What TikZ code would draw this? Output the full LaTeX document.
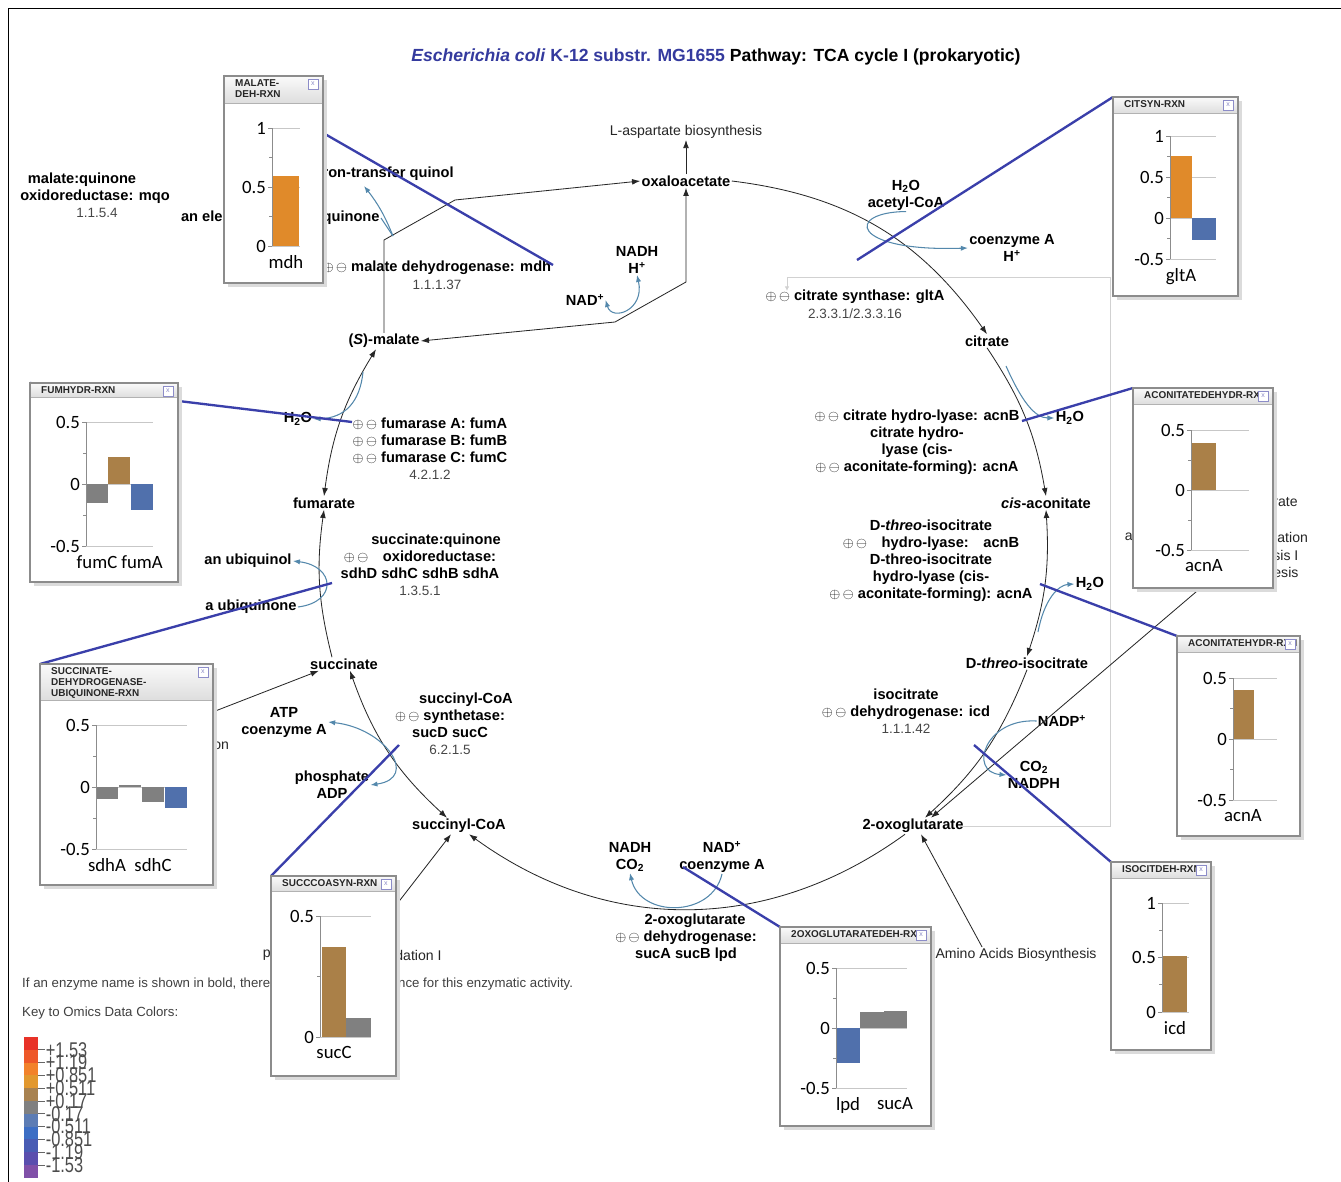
\documentclass[tikz,border=0pt]{standalone}
\usepackage{fontspec}
\setmainfont{Liberation Sans}
\newfontfamily\chartfont{Carlito}
\usepackage{graphicx}
\usepackage{tikz}
\usetikzlibrary{arrows.meta,calc,positioning}

% colours
\definecolor{titleblue}{RGB}{52,58,158}
\definecolor{linkblue}{RGB}{58,63,170}
\definecolor{sideblue}{RGB}{84,136,172}
\definecolor{barorange}{RGB}{224,138,42}
\definecolor{barbrown}{RGB}{170,128,72}
\definecolor{barblue}{RGB}{80,112,172}
\definecolor{bargray}{RGB}{128,128,128}
\definecolor{ecgray}{RGB}{70,70,70}
\definecolor{iconblue}{RGB}{140,140,200}
\definecolor{key1}{RGB}{232,50,40}
\definecolor{key2}{RGB}{238,88,40}
\definecolor{key3}{RGB}{242,130,42}
\definecolor{key4}{RGB}{226,152,46}
\definecolor{key5}{RGB}{168,130,80}
\definecolor{key6}{RGB}{128,128,128}
\definecolor{key7}{RGB}{92,124,180}
\definecolor{key8}{RGB}{60,110,196}
\definecolor{key9}{RGB}{72,92,180}
\definecolor{key10}{RGB}{90,78,174}
\definecolor{key11}{RGB}{128,80,168}

% fonts
\newcommand\titlefont{\fontsize{15}{18}\selectfont\bfseries}
\newcommand\metfont{\fontsize{12.5}{14.5}\selectfont\bfseries}
\newcommand\ecfont{\fontsize{11.5}{14.5}\selectfont\mdseries}
\newcommand\plainfont{\fontsize{12}{14.5}\selectfont}
\newcommand\notefont{\fontsize{11.3}{13}\selectfont}
\newcommand\boxfont{\fontsize{8.5}{9.6}\selectfont\bfseries}
\newcommand\tickfont{\chartfont\fontsize{16}{18}\selectfont}
\newcommand\keyfont{\fontsize{14}{14}\selectfont}
\newcommand\regs{{\fontsize{12.5}{12}\selectfont$\oplus$\,$\ominus$}}

\tikzset{
  met/.style={font=\metfont, inner sep=1pt},
  enz/.style={font=\metfont, align=center, inner sep=0pt},
  ec/.style={font=\ecfont, text=ecgray, inner sep=0pt},
  plainlbl/.style={font=\plainfont, text=black!85, inner sep=1pt},
  notetext/.style={font=\notefont, text=black!75, inner sep=0pt, anchor=west},
  rxn/.style={draw=black!85, line width=0.7pt, ->},
  rxnboth/.style={draw=black!85, line width=0.7pt, <->},
  sidearr/.style={draw=sideblue, line width=0.9pt, ->, >={Latex[length=6pt,width=4.5pt]}},
  sideboth/.style={sidearr, <->},
  omicslink/.style={draw=linkblue, line width=2pt},
  omicsframe/.style={fill=white, inner sep=0pt, outer sep=0pt},
  boxtitle/.style={font=\boxfont, align=left, inner sep=0pt, anchor=north west, text=black!85},
  closebox/.style={draw=iconblue, fill=white, minimum size=0.3cm, inner sep=0pt, font=\fontsize{6}{6}\selectfont, text=iconblue},
  chartgrid/.style={draw=black!22, line width=0.8pt},
  axisc/.style={draw=black!45, line width=0.8pt},
  ticklab/.style={anchor=east, font=\tickfont, inner sep=0pt},
  barlab/.style={anchor=north, font=\tickfont, inner sep=1pt, yshift=-7pt},
  keylab/.style={anchor=west, font=\keyfont, text=black!70, inner sep=0.5pt}
}

% omics popup: name, corner, width, height, title bar height, title
\newcommand{\omicsbox}[6]{%
  \fill[black!14] ($(#2)+(4,-4)$) rectangle ++(#3,-#4);
  \node[omicsframe, minimum width={#3*0.03cm}, minimum height={#4*0.03cm}, anchor=north west] (#1) at (#2) {};
  \fill[top color=black!2, bottom color=black!13] (#1.north west) rectangle ($(#1.north east)+(0,-#5)$);
  \draw[black!30] ($(#1.north west)+(0,-#5)$) -- ($(#1.north east)+(0,-#5)$);
  \begin{scope}
    \clip (#1.north west) rectangle ($(#1.north east)+(0,-#5)$);
    \node[boxtitle] (#1title) at ($(#1.north west)+(11,-3)$) {#6};
  \end{scope}
  \node[closebox] (#1close) at ($(#1.north east)+(-10,-8)$) {x};
  \draw[black!45, line width=1pt] (#1.north west) rectangle (#1.south east);
}
% chart axes: prefix, grid width, major values, minor values
\newcommand{\chartaxes}[4]{%
  \foreach \val [count=\i] in {#3}{
    \draw[chartgrid] (0,\val) -- (#2,\val);
    \draw[axisc] (-4,\val) -- (0,\val);
    \node[ticklab] (#1t\i) at (-6,\val) {\val};
  }
  \foreach \val in {#4}{\draw[axisc] (-3,\val) -- (0,\val);}
}

\begin{document}
\begin{tikzpicture}[x=0.03cm, y=0.03cm, >={Latex[length=7pt,width=5pt]}]
% 1 unit = 1 pixel of the screen shot, y downwards negative
\useasboundingbox (0,0) rectangle (1341,-1182);
\fill[white] (0,0) rectangle (1341,-1182);
\draw[line width=0.8pt] (8,-1182) -- (8,-8) -- (1341,-8);

\node[font=\titlefont] (title) at (716,-57) {\textcolor{titleblue}{\textit{Escherichia coli} K-12 substr. MG1655} Pathway: TCA cycle I (prokaryotic)};

% zoom frame of the viewer
\draw[black!18, line width=0.8pt, ->, >={Latex[length=4pt,width=4pt]}] (960,-826) -- (1110,-826) -- (1110,-277) -- (787,-277) -- (787,-291);

% metabolites of the cycle
\node[met] (oaa) at (686,-181) {oxaloacetate};
\node[plainlbl] (asp) at (686,-132) {L-aspartate biosynthesis};
\node[met] (cit) at (987,-341) {citrate};
\node[met] (cis) at (1046,-503) {\textit{cis}-aconitate};
\node[met] (iso) at (1027,-663) {D-\textit{threo}-isocitrate};
\node[met] (oxo) at (913,-826) {2-oxoglutarate};
\node[met] (sca) at (459,-826) {succinyl-CoA};
\node[met] (suc) at (344,-664) {succinate};
\node[met] (fum) at (324,-503) {fumarate};
\node[met] (mal) at (384,-341) {(\textit{S})-malate};
\node[plainlbl] (amino) at (1016,-955) {Amino Acids Biosynthesis};

% side compounds
\node[met, anchor=east] (qnl) at (455,-174) {an electron-transfer quinol};
\node[met, anchor=east] (qne) at (381,-218) {an electron-transfer quinone};
\node[met, align=center] (nadh1) at (637,-260) {NADH\\H\textsuperscript{+}};
\node[met] (nad1) at (585,-300) {NAD\textsuperscript{+}};
\node[met, align=center] (acoa) at (906,-195) {H\textsubscript{2}O\\acetyl-CoA};
\node[met, align=center] (coa) at (1012,-248) {coenzyme A\\H\textsuperscript{+}};
\node[met] (h2oa) at (1070,-418) {H\textsubscript{2}O};
\node[met] (h2ob) at (1090,-584) {H\textsubscript{2}O};
\node[met] (nadp) at (1062,-721) {NADP\textsuperscript{+}};
\node[met, align=center] (nadph) at (1034,-775) {CO\textsubscript{2}\\NADPH};
\node[met, align=center] (nadhco) at (630,-857) {NADH\\CO\textsubscript{2}};
\node[met, align=center] (nadcoa) at (722,-857) {NAD\textsuperscript{+}\\coenzyme A};
\node[met, align=center] (atp) at (284,-722) {ATP\\coenzyme A};
\node[met, align=center] (padp) at (332,-785) {phosphate\\ADP};
\node[met] (uql) at (248,-561) {an ubiquinol};
\node[met] (uq) at (251,-607) {a ubiquinone};
\node[met] (h2of) at (298,-419) {H\textsubscript{2}O};

% enzymes
\node[enz] (mdh) at (437,-268) {\regs\ malate dehydrogenase: mdh};
\node[ec] (mdhec) at (437,-285) {1.1.1.37};
\node[enz] (mqo) at (95,-188) {malate:quinone\hspace*{0.78cm}\\oxidoreductase: mqo};
\node[ec] (mqoec) at (97,-213) {1.1.5.4};
\node[enz] (gltA) at (855,-297) {\regs\ citrate synthase: gltA};
\node[ec] (gltAec) at (855,-314) {2.3.3.1/2.3.3.16};
\node[enz] (acn) at (917,-442) {\regs\ citrate hydro-lyase: acnB\\citrate hydro-\\lyase (cis-\\\regs\ aconitate-forming): acnA};
\node[enz] (acnr) at (931,-561) {D-\textit{threo}-isocitrate\\\regs\quad hydro-lyase:\quad acnB\\D-threo-isocitrate\\hydro-lyase (cis-\\\regs\ aconitate-forming): acnA};
\node[enz] (icd) at (906,-711) {isocitrate\\\regs\ dehydrogenase: icd\\{\ecfont\color{ecgray}1.1.1.42}};
\node[enz] (fumr) at (430,-449) {\regs\ fumarase A: fumA\\\regs\ fumarase B: fumB\\\regs\ fumarase C: fumC\\{\ecfont\color{ecgray}4.2.1.2}};
\node[enz] (sdh) at (420,-565) {\hspace*{0.96cm}succinate:quinone\\\regs\quad oxidoreductase:\\sdhD sdhC sdhB sdhA\\{\ecfont\color{ecgray}1.3.5.1}};
\node[enz] (scs) at (450,-724) {\hspace*{0.96cm}succinyl-CoA\\\regs\ synthetase:\\sucD sucC\\{\ecfont\color{ecgray}6.2.1.5}};
\node[enz] (ogd) at (686,-938) {\hspace*{0.54cm}2-oxoglutarate\\\regs\ dehydrogenase:\\sucA sucB lpd};

% texts partly under the popups
\node[plainlbl, anchor=west] (fr1) at (212,-746) {on};
\node[plainlbl, anchor=east] (fr2) at (272,-955) {p};
\node[plainlbl, anchor=west] (fr3) at (394,-955) {dation I};
\node[plainlbl, anchor=west] (fr4) at (1272,-502) {rate};
\node[plainlbl, anchor=east] (fr5) at (1134,-537) {a};
\node[plainlbl, anchor=west] (fr6) at (1276,-537) {ation};
\node[plainlbl, anchor=west] (fr7) at (1272,-555) {sis I};
\node[plainlbl, anchor=west] (fr8) at (1272,-572) {esis};
\node[notetext] (foot) at (22,-984) {If an enzyme name is shown in bold, there is experimental evidence for this enzymatic activity.};
\node[notetext] (keyhead) at (22,-1013) {Key to Omics Data Colors:};

% colour key
\foreach \i in {1,...,11}
  \fill[key\i] (24,{-1037-12.8*(\i-1)}) rectangle (38,{-1037-12.8*\i});
\foreach \kv [count=\i] in {+1.53,+1.19,+0.851,+0.511,+0.17,-0.17,-0.511,-0.851,-1.19,-1.53}{
  \draw[black!60, line width=0.8pt] (38,{-1037-12.8*\i}) -- (45,{-1037-12.8*\i});
  \node[keylab] (key\i) at (45,{-1037-12.8*\i}) {\scalebox{1}[1.3]{\kv}};
}

% the cycle
\draw[rxn] (oaa.east) to[bend left=24] (cit.north);
\draw[rxn] (cit.south) to[bend left=12] (cis.north);
\draw[rxnboth] (iso.north) to[bend right=11] (cis.south);
\draw[rxn] (iso.south) to[bend left=13] ($(oxo.north)+(12,0)$);
\draw[rxn] ($(oxo.south)+(-8,0)$) to[bend left=36] ($(sca.south)+(10,0)$);
\draw[rxnboth] ($(sca.north)+(-12,0)$) to[bend left=14] ($(suc.south)+(6,0)$);
\draw[rxn] ($(suc.north)+(-12,0)$) to[bend left=11] (fum.south);
\draw[rxnboth] ($(mal.south)+(-8,0)$) to[bend right=12] (fum.north);
\coordinate (mdhknee) at (615,-322);
\coordinate (mdhtop) at (686,-282);
\draw[rxnboth] (mal.east) -- (mdhknee) -- (mdhtop) -- (oaa.south);
\coordinate (mqoa) at (384,-240);
\coordinate (mqob) at (455,-200);
\draw[rxn] (mal.north) -- (mqoa) -- (mqob) -- (oaa.west);
\draw[rxn] (oaa.north) -- (asp.south);
\coordinate (gluin) at (1210,-580);
\draw[rxn] (gluin) -- ($(oxo.north)+(18,0)$);
\draw[rxn] ($(amino.north west)+(48,0)$) -- ($(oxo.south)+(8,0)$);
\coordinate (sucin) at (205,-715);
\draw[rxn] (sucin) -- ($(suc.south west)+(10,0)$);
\coordinate (scain) at (390,-913);
\draw[rxn] (scain) -- ($(sca.south)+(-8,0)$);

% side reactions
\coordinate (mqoside) at (393,-236);
\coordinate (qnltip) at (364,-186);
\draw[sidearr, -] (qne.east) -- (mqoside);
\draw[sidearr] (mqoside) to[bend right=8] (qnltip);
\draw[sideboth] (nad1.east) .. controls (612,-322) and (645,-310) .. (nadh1.south);
\draw[sidearr] (acoa.south) .. controls (845,-212) and (850,-252) .. (coa.west);
\coordinate (acn1from) at (1006,-366);
\draw[sidearr] (acn1from) .. controls (1022,-402) and (1035,-418) .. (h2oa.west);
\coordinate (acn2from) at (1038,-632);
\draw[sidearr] (acn2from) .. controls (1044,-600) and (1058,-585) .. (h2ob.west);
\draw[sidearr] (nadp.west) .. controls (985,-718) and (968,-772) .. (nadph.west);
\draw[sidearr] (nadcoa.south) .. controls (712,-918) and (640,-918) .. (nadhco.south);
\draw[sideboth] (atp.east) .. controls (385,-728) and (420,-778) .. (padp.east);
\draw[sidearr] (uq.east) .. controls (338,-602) and (335,-566) .. (uql.east);
\coordinate (fumfrom) at (363,-372);
\draw[sidearr] (fumfrom) .. controls (360,-402) and (345,-418) .. (h2of.east);

% popup corners and their reactions
\coordinate (mdhc) at (224,-76);
\coordinate (citc) at (1113,-97);
\coordinate (acndc) at (1133,-388);
\coordinate (acnhc) at (1177,-636);
\coordinate (icdc) at (1111,-862);
\coordinate (ogdc) at (780,-927);
\coordinate (scsc) at (271,-876);
\coordinate (sdhc) at (40,-664);
\coordinate (fumc) at (30,-383);
\coordinate (mdhlk) at (553,-265);
\coordinate (citlk) at (857,-260);
\coordinate (acndlk) at (1022,-421);
\coordinate (acnhlk) at (1040,-584);
\coordinate (icdlk) at (974,-745);
\coordinate (ogdlk) at (683,-867);
\coordinate (scslk) at (399,-745);
\coordinate (sdhlk) at (332,-583);
\coordinate (fumlk) at (352,-422);
\foreach \c in {mdh,cit,acnd,acnh,icd,ogd,scs,sdh,fum}
  \draw[omicslink] (\c c) -- (\c lk);

% popups
\omicsbox{mdhbox}{mdhc}{99}{207}{27}{MALATE-\\DEH-RXN}
\begin{scope}[shift={(272,-246)}, y=3.54cm]
  \chartaxes{mdh}{28}{0,0.5,1}{0.25,0.75}
  \fill[barorange] (1,0) rectangle (27,0.59);
  \draw[axisc] (0,0) -- (0,1);
  \node[barlab] (mdhg) at (14,0) {mdh};
\end{scope}

\omicsbox{citbox}{citc}{125}{199}{16}{CITSYN-RXN}
\begin{scope}[shift={(1170,-218)}, y=2.46cm]
  \chartaxes{cit}{46}{-0.5,0,0.5,1}{-0.25,0.25,0.75}
  \fill[barorange] (0,0) rectangle (22,0.75);
  \fill[barblue] (22,0) rectangle (46,-0.27);
  \draw[axisc] (0,-0.5) -- (0,1);
  \node[barlab] (citg) at (11,-0.5) {gltA};
\end{scope}

\omicsbox{acndbox}{acndc}{140}{200}{16}{ACONITATEDEHYDR-RXN}
\begin{scope}[shift={(1191,-490)}, y=3.6cm]
  \chartaxes{acnd}{58}{-0.5,0,0.5}{-0.25,0.25}
  \fill[barbrown] (1,0) rectangle (25,0.39);
  \draw[axisc] (0,-0.5) -- (0,0.5);
  \node[barlab] (acndg) at (13,-0.5) {acnA};
\end{scope}

\omicsbox{acnhbox}{acnhc}{123}{200}{16}{ACONITATEHYDR-RXN}
\begin{scope}[shift={(1233,-739)}, y=3.66cm]
  \chartaxes{acnh}{44}{-0.5,0,0.5}{-0.25,0.25}
  \fill[barbrown] (1,0) rectangle (21,0.4);
  \draw[axisc] (0,-0.5) -- (0,0.5);
  \node[barlab] (acnhg) at (10,-0.5) {acnA};
\end{scope}

\omicsbox{icdbox}{icdc}{100}{188}{16}{ISOCITDEH-RXN}
\begin{scope}[shift={(1162,-1012)}, y=3.27cm]
  \chartaxes{icd}{27}{0,0.5,1}{0.25,0.75}
  \fill[barbrown] (0,0) rectangle (25,0.51);
  \draw[axisc] (0,0) -- (0,1);
  \node[barlab] (icdg) at (13,0) {icd};
\end{scope}

\omicsbox{ogdbox}{ogdc}{151}{199}{16}{2OXOGLUTARATEDEH-RXN}
\begin{scope}[shift={(836,-1028)}, y=3.6cm]
  \chartaxes{ogd}{71}{-0.5,0,0.5}{-0.25,0.25}
  \fill[barblue] (1,0) rectangle (24,-0.29);
  \fill[bargray] (24,0) rectangle (48,0.13);
  \fill[bargray] (48,0) rectangle (71,0.14);
  \draw[axisc] (0,-0.5) -- (0,0.5);
  \node[barlab] (ogdg1) at (12,-0.5) {lpd};
  \node[barlab] (ogdg2) at (59,-0.5) {sucA};
\end{scope}

\omicsbox{scsbox}{scsc}{125}{200}{15}{SUCCCOASYN-RXN}
\begin{scope}[shift={(320,-1037)}, y=7.26cm]
  \chartaxes{scs}{51}{0,0.5}{0.25}
  \fill[barbrown] (2,0) rectangle (26,0.37);
  \fill[bargray] (26,0) rectangle (51,0.08);
  \draw[axisc] (0,0) -- (0,0.5);
  \node[barlab] (scsg) at (14,0) {sucC};
\end{scope}

\omicsbox{sdhbox}{sdhc}{173}{221}{36}{SUCCINATE-\\DEHYDROGENASE-\\UBIQUINONE-RXN}
\begin{scope}[shift={(96,-787)}, y=3.72cm]
  \chartaxes{sdh}{91}{-0.5,0,0.5}{-0.25,0.25}
  \fill[bargray] (1,0) rectangle (22,-0.1);
  \fill[bargray] (23,0) rectangle (45,0.015);
  \fill[bargray] (46,0) rectangle (68,-0.12);
  \fill[barblue] (69,0) rectangle (91,-0.17);
  \draw[axisc] (0,-0.5) -- (0,0.5);
  \node[barlab] (sdhg1) at (11,-0.5) {sdhA};
  \node[barlab] (sdhg2) at (57,-0.5) {sdhC};
\end{scope}

\omicsbox{fumbox}{fumc}{148}{199}{14}{FUMHYDR-RXN}
\begin{scope}[shift={(86,-484)}, y=3.72cm]
  \chartaxes{fum}{67}{-0.5,0,0.5}{-0.25,0.25}
  \fill[bargray] (0,0) rectangle (22,-0.15);
  \fill[barbrown] (22,0) rectangle (44,0.22);
  \fill[barblue] (45,0) rectangle (67,-0.21);
  \draw[axisc] (0,-0.5) -- (0,0.5);
  \node[barlab] (fumg1) at (11,-0.5) {fumC};
  \node[barlab] (fumg2) at (56,-0.5) {fumA};
\end{scope}
\end{tikzpicture}
\end{document}
